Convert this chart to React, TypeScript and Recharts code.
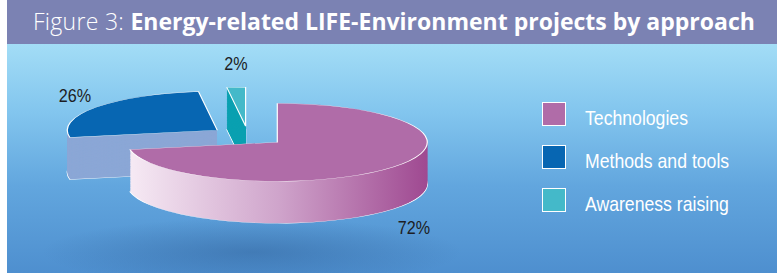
import React from 'react';
import { PieChart, Pie, Cell } from 'recharts';

const categories = ['Technologies', 'Methods and tools', 'Awareness raising'];
const shares = [72, 26, 2];
const topColors = ['#b06ca8', '#0766b2', '#44b9c9'];
const sideColors = ['url(#pinkSide)', '#8ba7d6', '#0ba0b1'];
const shareLabels = shares.map(s => `${s}%`);

// layout of the fake 3D pie (unscaled coords, y squashed by K afterwards)
const K = 0.26;
const CX = 248;
const CY = 136 / K;
const R = 150;
const EXPLODE = 38;
const DEPTH = 42 / K;
const STEP = 3;

// where the percent labels sit on the page
const labelPos = [
  { left: 414, top: 228 },
  { left: 75, top: 96 },
  { left: 236, top: 64 },
];

const data = categories.map((name, i) => ({ name, value: shares[i] }));

const total = shares.reduce((a, b) => a + b, 0);
const offsets = shares.map((s, i) => {
  const before = shares.slice(0, i).reduce((a, b) => a + b, 0);
  const mid = (90 - (360 * (before + s / 2)) / total) * (Math.PI / 180);
  return { x: EXPLODE * Math.cos(mid), y: -EXPLODE * Math.sin(mid) };
});

const layers: number[] = [];
for (let d = DEPTH; d > 0; d -= STEP) layers.push(d);

const narrow = "'Liberation Sans', Arial, sans-serif";

const slicePie = (i: number, d: number, fill: string, outline: boolean, key: string) => (
  <Pie
    key={key}
    data={data}
    dataKey="value"
    cx={CX + offsets[i].x}
    cy={CY + offsets[i].y + d}
    outerRadius={R}
    startAngle={90}
    endAngle={-270}
    isAnimationActive={false}
    stroke="none"
  >
    {data.map((_, j) => (
      <Cell
        key={j}
        fill={j === i ? fill : 'none'}
        stroke={j === i && outline ? '#ffffff' : 'none'}
        strokeWidth={1.2}
        vectorEffect="non-scaling-stroke"
      />
    ))}
  </Pie>
);

export default function App() {
  // back to front: awareness, methods, technologies
  const order = [2, 1, 0];
  return (
    <div style={{ position: 'absolute', left: 0, top: 0, width: 777, height: 275, background: '#fff', overflow: 'hidden' }}>
      <div style={{ position: 'absolute', left: 7, top: 0, width: 770, height: 44, background: '#7b82b3' }}>
        <div style={{ position: 'absolute', left: 26, top: 5, color: '#fff', fontFamily: "'Open Sans', sans-serif", fontSize: 23, whiteSpace: 'nowrap' }}>
          <span style={{ fontWeight: 300, letterSpacing: 0.3 }}>Figure 3: </span>
          <span style={{ fontWeight: 700 }}>Energy-related LIFE-Environment projects by approach</span>
        </div>
      </div>
      <div
        style={{
          position: 'absolute', left: 7, top: 44, width: 770, height: 229,
          background: 'radial-gradient(ellipse 210px 34px at 245px 208px, rgba(40,85,140,0.4), rgba(40,85,140,0) 100%), linear-gradient(180deg, #a3ddf6 0%, #82c5ee 30%, #62a6de 62%, #4e8fcf 100%)',
        }}
      />
      <div style={{ position: 'absolute', left: 0, top: 0, transform: `scaleY(${K})`, transformOrigin: '0 0' }}>
        <PieChart width={777} height={Math.round(275 / K)} margin={{ top: 0, right: 0, bottom: 0, left: 0 }}>
          <defs>
            <linearGradient id="pinkSide" x1="0" y1="0" x2="1" y2="0">
              <stop offset="0%" stopColor="#f6eaf4" />
              <stop offset="50%" stopColor="#cfa4cb" />
              <stop offset="100%" stopColor="#9f4991" />
            </linearGradient>
          </defs>
          {order.map(i => [
            ...layers.map((d, li) => slicePie(i, d, sideColors[i], li === 0, `s${i}-${li}`)),
            slicePie(i, 0, topColors[i], true, `t${i}`),
          ])}
        </PieChart>
      </div>
      {shareLabels.map((t, i) => (
        <div
          key={t}
          style={{
            position: 'absolute', left: labelPos[i].left, top: labelPos[i].top,
            transform: 'translate(-50%, -50%) scaleX(0.85)', fontFamily: narrow, fontSize: 19, color: '#1d1d24',
          }}
        >
          {t}
        </div>
      ))}
      {categories.map((c, i) => (
        <div key={c} style={{ position: 'absolute', left: 542, top: 101 + i * 43, display: 'flex', alignItems: 'center', height: 25 }}>
          <div style={{ width: 22, height: 22, background: topColors[i], border: '1.5px solid #fff' }} />
          <div style={{ marginLeft: 19, position: 'relative', top: 4, color: '#fff', fontFamily: narrow, fontSize: 21, transform: 'scaleX(0.84)', transformOrigin: '0 50%', whiteSpace: 'nowrap' }}>{c}</div>
        </div>
      ))}
    </div>
  );
}
